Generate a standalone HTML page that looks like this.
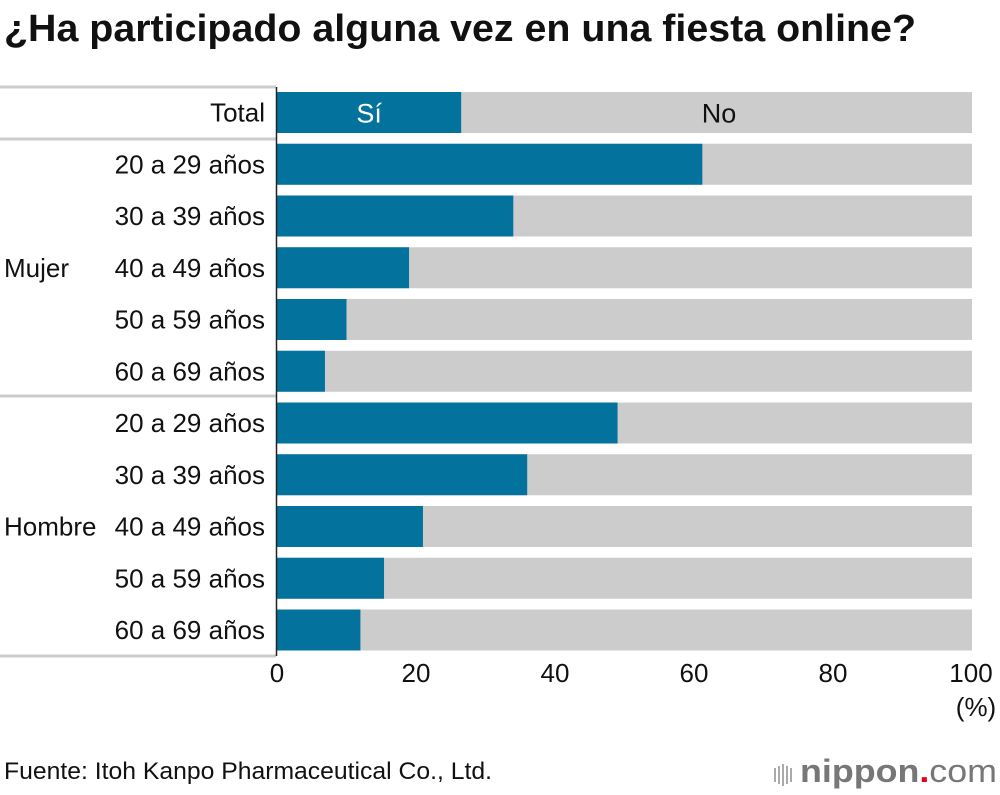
<!DOCTYPE html>
<html><head><meta charset="utf-8"><style>
body{margin:0;background:#fff;width:1000px;height:790px;overflow:hidden;font-family:"Liberation Sans",Arial,sans-serif}
</style></head><body>
<svg width="1000" height="790" xmlns="http://www.w3.org/2000/svg" id="chart" font-family="Liberation Sans, Arial, sans-serif">
<text x="4" y="41" font-size="38" font-weight="bold" fill="#111" textLength="912" lengthAdjust="spacingAndGlyphs">¿Ha participado alguna vez en una fiesta online?</text>
<g id="bars"></g>
<text x="4" y="779" font-size="24" fill="#111" textLength="488" lengthAdjust="spacingAndGlyphs">Fuente: Itoh Kanpo Pharmaceutical Co., Ltd.</text>
<g>
<g fill="#aaa"><rect x="774" y="768" width="2" height="14"/><rect x="778" y="766" width="2" height="18"/><rect x="782" y="764" width="2" height="22"/><rect x="786" y="766" width="2" height="18"/><rect x="790" y="768" width="2" height="14"/></g>
<text x="800" y="782" font-size="32" fill="#777" font-weight="bold" textLength="197" lengthAdjust="spacingAndGlyphs">nippon<tspan fill="#e60012">.</tspan><tspan font-weight="normal">com</tspan></text>
</g>
</svg>
<script>
const categories=["Total","20 a 29 años","30 a 39 años","40 a 49 años","50 a 59 años","60 a 69 años","20 a 29 años","30 a 39 años","40 a 49 años","50 a 59 años","60 a 69 años"];
const siValues=[26.5,61.2,34,19,10,6.9,49,36,21,15.4,12];
const xTicks=[0,20,40,60,80,100];
const groups=["Mujer","Hombre"];
const NS="http://www.w3.org/2000/svg";
const g=document.getElementById('bars');
const x0=277,x1=972,top0=92,pitch=51.75,bh=41;
const xs=v=>x0+(x1-x0)*v/100;
const ys=i=>top0+i*pitch;
function mk(t,a,txt){const e=document.createElementNS(NS,t);for(const k in a)e.setAttribute(k,a[k]);if(txt!==undefined)e.textContent=txt;g.appendChild(e);return e;}
categories.forEach((c,i)=>{
  let r=mk('rect',{x:xs(0),y:ys(i),width:xs(100)-xs(0),height:bh,fill:'#cccccc'});
  
  
  let s=mk('rect',{x:xs(0),y:ys(i),width:xs(siValues[i])-xs(0),height:bh,fill:'#03729c'});
  
  
  let l=mk('text',{x:265,y:ys(i)+bh/2+9,'font-size':26,'text-anchor':'end',fill:'#111'},c);
  
  
});
let a=mk('text',{x:(xs(0)+xs(siValues[0]))/2,y:ys(0)+bh/2+10,'font-size':27,'text-anchor':'middle',fill:'#fff'},'Sí');


let b=mk('text',{x:719,y:ys(0)+bh/2+10,'font-size':27,'text-anchor':'middle',fill:'#111'},'No');


[87,139,396,656].forEach(y=>{let ln=mk('rect',{x:0,y:y-1.5,width:276,height:3,fill:'#cccccc'});

});
let ax=mk('line',{x1:276.5,x2:276.5,y1:87,y2:656,stroke:'#222','stroke-width':1.5});


let g1=mk('text',{x:4,y:ys(3)+bh/2+9,'font-size':26,fill:'#111'},groups[0]);


let g2=mk('text',{x:4,y:ys(8)+bh/2+9,'font-size':26,fill:'#111'},groups[1]);


xTicks.forEach((t,i)=>{let tx=mk('text',{x:i==xTicks.length-1?xs(t)-1:xs(t),y:682,'font-size':26,'text-anchor':'middle',fill:'#111'},t);

});
let u=mk('text',{x:976,y:716,'font-size':26,'text-anchor':'middle',fill:'#111'},'(%)');


</script>
</body></html>
